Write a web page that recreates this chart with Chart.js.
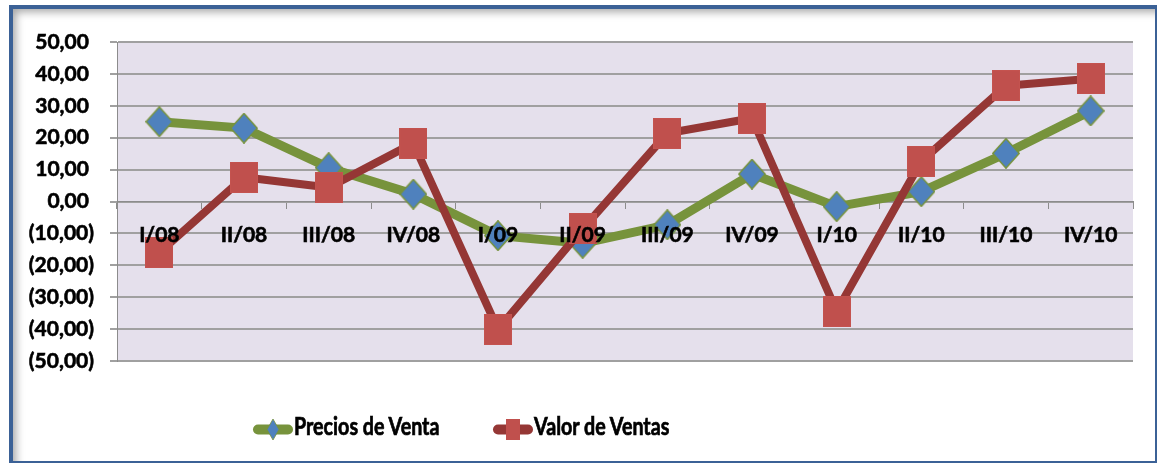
<!DOCTYPE html>
<html>
<head>
<meta charset="utf-8">
<script src="https://cdn.jsdelivr.net/npm/chart.js@4.4.0/dist/chart.umd.min.js"></script>
<style>
  html, body { margin: 0; padding: 0; background: #fff; width: 1157px; height: 464px; overflow: hidden; }
  #frame { position: absolute; left: 9px; top: 5px; width: 1142px; height: 452px;
    border-style: solid; border-color: #3b6196; border-width: 4px 2px 2px 4px;
    box-shadow: inset 8px 8px 9px -5px rgba(0,0,0,0.35); background: #fff; }
  #c { position: absolute; left: 0; top: 0; }
  #legend { position: absolute; left: 0; top: 0; width: 1157px; height: 464px; pointer-events: none;
    font-family: Lato, sans-serif; font-weight: bold; font-size: 24px; color: #000; }
  .sym { position: absolute; }
  .txt { position: absolute; line-height: 24px; white-space: nowrap; transform: scaleX(0.82); transform-origin: 0 0;
    -webkit-text-stroke: 0.7px #000; }
</style>
</head>
<body>
<div id="frame"></div>
<canvas id="c" width="1157" height="464"></canvas>
<div id="legend"></div>
<script>
// ---- data ----
const categories = ['I/08', 'II/08', 'III/08', 'IV/08', 'I/09', 'II/09', 'III/09', 'IV/09', 'I/10', 'II/10', 'III/10', 'IV/10'];
const preciosVenta = [25.0, 23.0, 10.6, 2.3, -10.7, -13.1, -7.3, 8.6, -1.6, 3.1, 15.1, 28.4];
const valorVentas = [-16.0, 7.6, 4.4, 18.3, -40.1, -8.6, 21.4, 26.1, -34.4, 12.6, 36.3, 38.5];
const seriesNames = ['Precios de Venta', 'Valor de Ventas'];
const yTickValues = [-50, -40, -30, -20, -10, 0, 10, 20, 30, 40, 50];
const yTickLabels = ['(50,00)', '(40,00)', '(30,00)', '(20,00)', '(10,00)', '0,00 ', '10,00 ', '20,00 ', '30,00 ', '40,00 ', '50,00 '];

// ---- marker images ----
function diamondImg(w, h, fill, stroke, lw) {
  const c = document.createElement('canvas'); c.width = w; c.height = h;
  const g = c.getContext('2d');
  g.beginPath(); g.moveTo(w / 2, lw / 2); g.lineTo(w - lw / 2, h / 2); g.lineTo(w / 2, h - lw / 2); g.lineTo(lw / 2, h / 2); g.closePath();
  g.fillStyle = fill; g.fill(); g.lineWidth = lw; g.strokeStyle = stroke; g.stroke();
  return c;
}
function rectImg(w, h, fill, stroke, lw) {
  const c = document.createElement('canvas'); c.width = w; c.height = h;
  const g = c.getContext('2d');
  g.fillStyle = fill; g.fillRect(0, 0, w, h);
  g.lineWidth = lw; g.strokeStyle = stroke; g.strokeRect(lw / 2, lw / 2, w - lw, h - lw);
  return c;
}
const diamond = diamondImg(28, 31, '#4f81bd', '#77933c', 1.5);
const square = rectImg(28, 31, '#c0504d', '#c4534f', 1);

const bgPlugin = {
  id: 'plotBg',
  beforeDraw(chart) {
    const { ctx, chartArea: a } = chart;
    ctx.save(); ctx.fillStyle = '#e5e0ec';
    ctx.fillRect(a.left, a.top, a.right - a.left, a.bottom - a.top);
    ctx.restore();
  }
};

const tickFont = { family: 'Lato', weight: 'bold', size: 21 };

const chart = new Chart(document.getElementById('c'), {
  type: 'line',
  data: {
    labels: categories,
    datasets: [
      { label: seriesNames[0], data: preciosVenta, order: 1,
        borderColor: '#77933c', borderWidth: 9, tension: 0,
        borderCapStyle: 'round', borderJoinStyle: 'round',
        pointStyle: diamond, pointRadius: 14, pointHoverRadius: 14,
        pointBackgroundColor: '#4f81bd', pointBorderColor: '#77933c' },
      { label: seriesNames[1], data: valorVentas, order: 0,
        borderColor: '#953735', borderWidth: 8, tension: 0,
        borderCapStyle: 'round', borderJoinStyle: 'round',
        pointStyle: square, pointRadius: 14, pointHoverRadius: 14,
        pointBackgroundColor: '#c0504d', pointBorderColor: '#c0504d' }
    ]
  },
  options: {
    responsive: false, animation: false, devicePixelRatio: 1,
    layout: { padding: { top: 42, right: 24, bottom: 103, left: 0 } },
    plugins: { legend: { display: false }, tooltip: { enabled: false } },
    scales: {
      x: {
        type: 'category', offset: true, position: { y: 0 },
        grid: { display: true, drawOnChartArea: false, drawTicks: true, tickLength: 7, offset: true, color: '#8c8c8c', lineWidth: 1, z: -1 },
        border: { display: true, color: '#8c8c8c', width: 1, z: 0 },
        ticks: { font: tickFont, color: '#000', padding: 14, maxRotation: 0, autoSkip: false, z: 1,
                 textStrokeColor: '#000', textStrokeWidth: 0.6 },
        afterFit(s) { s.height = 0; }
      },
      y: {
        min: -50, max: 50,
        afterBuildTicks(s) { s.ticks = yTickValues.map(v => ({ value: v })); },
        ticks: { callback: (v, i) => yTickLabels[i], font: tickFont, color: '#000', padding: 16,
                 textStrokeColor: '#000', textStrokeWidth: 0.6 },
        grid: { color: '#a0a0a0', lineWidth: 2, tickLength: 7 },
        border: { display: true, color: '#8c8c8c', width: 1 },
        afterFit(s) { s.width = 117; }
      }
    }
  },
  plugins: [bgPlugin]
});

// ---- HTML legend built from the chart's datasets ----
const legendLayout = [
  { symLeft: 252, textLeft: 294 },
  { symLeft: 492, textLeft: 534 }
];
const legendEl = document.getElementById('legend');
chart.data.datasets.forEach((ds, i) => {
  const L = legendLayout[i];
  const isDiamond = i === 0;
  const marker = isDiamond
    ? '<polygon points="21,0 27,10.5 21,21 15,10.5" fill="' + ds.pointBackgroundColor + '" stroke="' + ds.borderColor + '" stroke-width="0.8"/>'
    : '<rect x="14" y="0" width="14" height="21" fill="' + ds.pointBackgroundColor + '"/>';
  const svg = '<svg class="sym" style="left:' + L.symLeft + 'px;top:419px" width="42" height="21" viewBox="0 0 42 21">' +
    '<line x1="6" y1="10.5" x2="36" y2="10.5" stroke="' + ds.borderColor + '" stroke-width="10" stroke-linecap="round"/>' +
    marker + '</svg>';
  legendEl.insertAdjacentHTML('beforeend', svg);
  const t = document.createElement('div');
  t.className = 'txt'; t.style.left = L.textLeft + 'px'; t.style.top = '414px';
  t.textContent = ds.label;
  legendEl.appendChild(t);
});
</script>
</body>
</html>
